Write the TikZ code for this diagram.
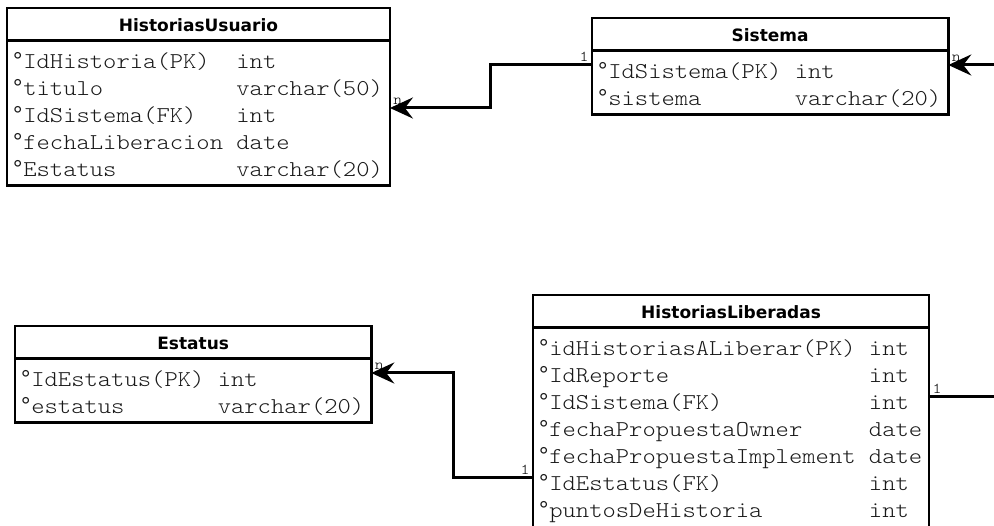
\documentclass[tikz,border=0pt]{standalone}
\usepackage{fontspec}
\setmonofont{lmmonolt10-regular.otf}[FakeStretch=1.12]
\newfontfamily\hdrfont{DejaVu Sans}
\newfontfamily\degfont{Liberation Mono}
\usepackage{xcolor}
\usepackage{tikz}
\usetikzlibrary{shapes,arrows.meta,positioning,calc}

\newlength\chw
\setlength\chw{13.32pt}
\newcommand\hdr[1]{\rule[-4.25pt]{0pt}{22.5pt}{\hdrfont\bfseries\fontsize{17}{20}\selectfont #1}}
\newcommand\pin{\makebox[\chw][l]{\hspace{0.5pt}{\degfont\fontsize{24}{24}\selectfont °}}}
\newcommand\fld[2]{\rule[-3.75pt]{0pt}{27pt}\smash{\pin#1} & \smash{#2} \\}
\newenvironment{fields}{\renewcommand{\arraystretch}{0}\ttfamily\fontsize{22.65}{27}\selectfont\color{black!90}\begin{tabular}{@{}l@{\hspace{\chw}}l@{\hspace{4pt}}}}{\end{tabular}}

\begin{document}
\begin{tikzpicture}[
        x=1pt, y=-1pt,
        tbl/.style={rectangle split, rectangle split parts=2, rectangle split part align={center,left}, draw, line width=2.5pt, inner xsep=3pt, inner ysep=3.75pt, outer sep=0pt, anchor=north west},
        rel/.style={draw, line width=3pt},
        many/.style={-{Stealth[length=23pt, width=21pt, inset=8pt]}},
        card/.style={font=\ttfamily\fontsize{15}{15}\selectfont, inner sep=2pt}
    ]
    \useasboundingbox (0,0) rectangle (994,526);

    % Tables
    \node [tbl] (hu) at (7,8) {\hdr{HistoriasUsuario}\nodepart{two}\begin{fields}
        \fld{IdHistoria(PK)}{int}
        \fld{titulo}{varchar(50)}
        \fld{IdSistema(FK)}{int}
        \fld{fechaLiberacion}{date}
        \fld{Estatus}{varchar(20)}
    \end{fields}};

    \node [tbl] (sis) at (592,18) {\hdr{Sistema}\nodepart{two}\begin{fields}
        \fld{IdSistema(PK)}{int}
        \fld{sistema}{varchar(20)}
    \end{fields}};

    \node [tbl] (est) at (15,326) {\hdr{Estatus}\nodepart{two}\begin{fields}
        \fld{IdEstatus(PK)}{int}
        \fld{estatus}{varchar(20)}
    \end{fields}};

    \node [tbl] (hl) at (533,295) {\hdr{HistoriasLiberadas}\nodepart{two}\begin{fields}
        \fld{idHistoriasALiberar(PK)}{int}
        \fld{IdReporte}{int}
        \fld{IdSistema(FK)}{int}
        \fld{fechaPropuestaOwner}{date}
        \fld{fechaPropuestaImplement}{date}
        \fld{IdEstatus(FK)}{int}
        \fld{puntosDeHistoria}{int}
        \rule{0pt}{27pt} & \\
    \end{fields}};

    % Ends of the relations cut by the page edge
    \coordinate (sisR) at (994,65);
    \coordinate (hlR) at (994,397);

    % Relations
    \path [rel, many] ([yshift=-47pt]sis.north west) node [card, above left] (c1) {1}
        -- ++(-102,0) |- ([yshift=-100pt]hu.north east) node [card, above right] (n1) {n};
    \path [rel, many] (sisR) -- ([yshift=-47pt]sis.north east) node [card, above right] (n2) {n};
    \path [rel] ([yshift=-102pt]hl.north east) node [card, above right] (c3) {1} -- (hlR);
    \path [rel, many] ([yshift=-183pt]hl.north west) node [card, above left] (c4) {1}
        -- ++(-80,0) |- ([yshift=-47pt]est.north east) node [card, above right] (n4) {n};

\end{tikzpicture}
\end{document}
